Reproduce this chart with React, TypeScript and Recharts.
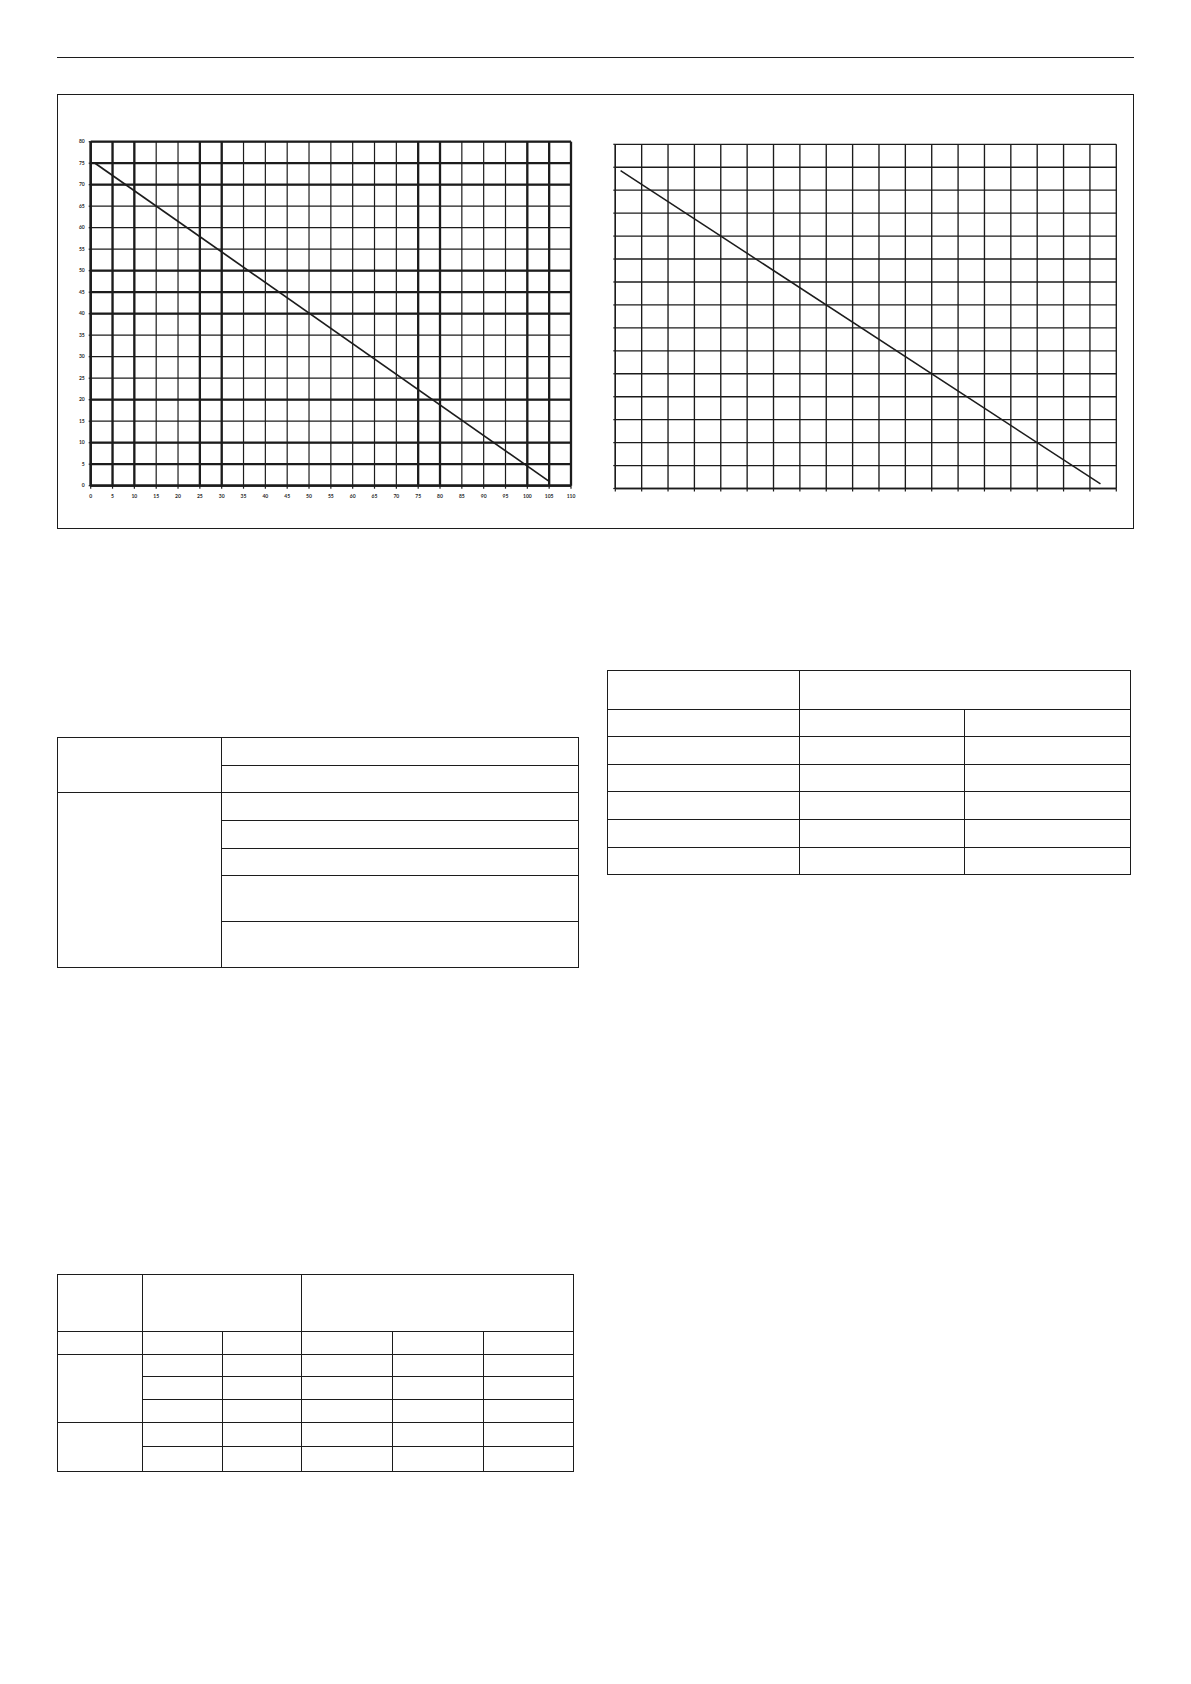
import React from "react";
import { LineChart, Line, XAxis, YAxis, CartesianGrid, ReferenceLine } from "recharts";

// ---------- data ----------
const leftXTicks = [0, 5, 10, 15, 20, 25, 30, 35, 40, 45, 50, 55, 60, 65, 70, 75, 80, 85, 90, 95, 100, 105, 110];
const leftYTicks = [0, 5, 10, 15, 20, 25, 30, 35, 40, 45, 50, 55, 60, 65, 70, 75, 80];
const leftHeavyX = [0, 5, 10, 25, 30, 75, 80, 100, 105, 110];
const leftHeavyY = [0, 5, 10, 20, 40, 45, 50, 70, 75, 80];
const leftLineX = [1, 105];
const leftLineY = [75, 1];

const rightXTicks = [0, 1, 2, 3, 4, 5, 6, 7, 8, 9, 10, 11, 12, 13, 14, 15, 16, 17, 18, 19];
const rightYTicks = [0, 1, 2, 3, 4, 5, 6, 7, 8, 9, 10, 11, 12, 13, 14, 15];
const rightLineX = [0.2, 18.4];
const rightLineY = [13.85, 0.2];

const leftData = leftLineX.map((x, i) => ({ x, y: leftLineY[i] }));
const rightData = rightLineX.map((x, i) => ({ x, y: rightLineY[i] }));

// ---------- styles ----------
const INK = "#1c1c1c";
const tickFont = { fontSize: 5, fill: "#2a2a2a", fontFamily: "Lato, 'Open Sans', sans-serif", fontWeight: 700 } as const;
const blankLabel = () => "";

const tableStyle: React.CSSProperties = {
  position: "absolute",
  borderCollapse: "collapse",
  tableLayout: "fixed",
};
const cell: React.CSSProperties = { border: `1.5px solid ${INK}`, padding: 0 };

function Table1() {
  const widths = [164, 357];
  const heights = [28, 27, 28, 28, 27, 46, 46];
  return (
    <table style={{ ...tableStyle, left: 57, top: 737, width: 521 }}>
      <colgroup>{widths.map((w, i) => <col key={i} style={{ width: w }} />)}</colgroup>
      <tbody>
        <tr style={{ height: heights[0] }}><td style={cell} rowSpan={2} /><td style={cell} /></tr>
        <tr style={{ height: heights[1] }}><td style={cell} /></tr>
        <tr style={{ height: heights[2] }}><td style={cell} rowSpan={5} /><td style={cell} /></tr>
        <tr style={{ height: heights[3] }}><td style={cell} /></tr>
        <tr style={{ height: heights[4] }}><td style={cell} /></tr>
        <tr style={{ height: heights[5] }}><td style={cell} /></tr>
        <tr style={{ height: heights[6] }}><td style={cell} /></tr>
      </tbody>
    </table>
  );
}

function Table2() {
  const widths = [192, 165, 166];
  const heights = [39, 27, 28, 27, 28, 28, 27];
  return (
    <table style={{ ...tableStyle, left: 607, top: 670, width: 523 }}>
      <colgroup>{widths.map((w, i) => <col key={i} style={{ width: w }} />)}</colgroup>
      <tbody>
        <tr style={{ height: heights[0] }}><td style={cell} /><td style={cell} colSpan={2} /></tr>
        {heights.slice(1).map((h, i) => (
          <tr key={i} style={{ height: h }}><td style={cell} /><td style={cell} /><td style={cell} /></tr>
        ))}
      </tbody>
    </table>
  );
}

function Table3() {
  const widths = [85, 80, 79, 91, 91, 90];
  const heights = [57, 23, 22, 23, 23, 24, 25];
  const five = (k: string) => [0, 1, 2, 3, 4].map((j) => <td key={k + j} style={cell} />);
  return (
    <table style={{ ...tableStyle, left: 57, top: 1274, width: 516 }}>
      <colgroup>{widths.map((w, i) => <col key={i} style={{ width: w }} />)}</colgroup>
      <tbody>
        <tr style={{ height: heights[0] }}><td style={cell} /><td style={cell} colSpan={2} /><td style={cell} colSpan={3} /></tr>
        <tr style={{ height: heights[1] }}><td style={cell} />{five("a")}</tr>
        <tr style={{ height: heights[2] }}><td style={cell} rowSpan={3} />{five("b")}</tr>
        <tr style={{ height: heights[3] }}>{five("c")}</tr>
        <tr style={{ height: heights[4] }}>{five("d")}</tr>
        <tr style={{ height: heights[5] }}><td style={cell} rowSpan={2} />{five("e")}</tr>
        <tr style={{ height: heights[6] }}>{five("f")}</tr>
      </tbody>
    </table>
  );
}

function LeftChart() {
  return (
    <div style={{ position: "absolute", left: 40, top: 120 }}>
      <LineChart width={560} height={400} data={leftData} margin={{ top: 21.7, right: 29, bottom: 14.3, left: 20.7 }}>
        <CartesianGrid stroke={INK} strokeWidth={1.2} strokeOpacity={1} />
        <XAxis
          type="number"
          dataKey="x"
          domain={[0, 110]}
          ticks={leftXTicks}
          interval={0}
          allowDataOverflow
          height={20}
          tick={tickFont}
          tickSize={3}
          tickMargin={6}
          axisLine={{ stroke: INK, strokeWidth: 2.2 }}
          tickLine={{ stroke: INK, strokeWidth: 1.2 }}
        />
        <YAxis
          type="number"
          dataKey="y"
          domain={[0, 80]}
          ticks={leftYTicks}
          interval={0}
          allowDataOverflow
          width={30}
          tick={tickFont}
          tickSize={2}
          tickMargin={4}
          axisLine={{ stroke: INK, strokeWidth: 2.2 }}
          tickLine={{ stroke: INK, strokeWidth: 1.2 }}
        />
        {leftHeavyX.map((v) => (
          <ReferenceLine key={"hx" + v} x={v} stroke={INK} strokeWidth={2.3} ifOverflow="extendDomain" />
        ))}
        {leftHeavyY.map((v) => (
          <ReferenceLine key={"hy" + v} y={v} stroke={INK} strokeWidth={2.3} ifOverflow="extendDomain" />
        ))}
        <Line type="linear" dataKey="y" stroke={INK} strokeWidth={1.7} dot={false} isAnimationActive={false} />
      </LineChart>
    </div>
  );
}

function RightChart() {
  return (
    <div style={{ position: "absolute", left: 600, top: 120 }}>
      <LineChart width={540} height={400} data={rightData} margin={{ top: 24.3, right: 23.7, bottom: 21.5, left: 5.3 }}>
        <CartesianGrid stroke={INK} strokeWidth={1.35} strokeOpacity={1} />
        <XAxis
          type="number"
          dataKey="x"
          domain={[0, 19]}
          ticks={rightXTicks}
          interval={0}
          allowDataOverflow
          height={10}
          tick={tickFont}
          tickFormatter={blankLabel}
          tickSize={3}
          axisLine={{ stroke: INK, strokeWidth: 1.4 }}
          tickLine={{ stroke: INK, strokeWidth: 1.2 }}
        />
        <YAxis
          type="number"
          dataKey="y"
          domain={[0, 15]}
          ticks={rightYTicks}
          interval={0}
          allowDataOverflow
          width={10}
          tick={tickFont}
          tickFormatter={blankLabel}
          tickSize={2}
          axisLine={{ stroke: INK, strokeWidth: 1.4 }}
          tickLine={{ stroke: INK, strokeWidth: 1.2 }}
        />
        <Line type="linear" dataKey="y" stroke={INK} strokeWidth={1.5} dot={false} isAnimationActive={false} />
      </LineChart>
    </div>
  );
}

export default function App() {
  return (
    <div style={{ position: "absolute", left: 0, top: 0, width: 1191, height: 1684, background: "#fff" }}>
      <div style={{ position: "absolute", left: 57, top: 57, width: 1077, height: 1.3, background: INK }} />
      <div
        style={{
          position: "absolute",
          left: 57,
          top: 94,
          width: 1077,
          height: 435,
          boxSizing: "border-box",
          border: `1.3px solid ${INK}`,
        }}
      />
      <LeftChart />
      <RightChart />
      <Table1 />
      <Table2 />
      <Table3 />
    </div>
  );
}
